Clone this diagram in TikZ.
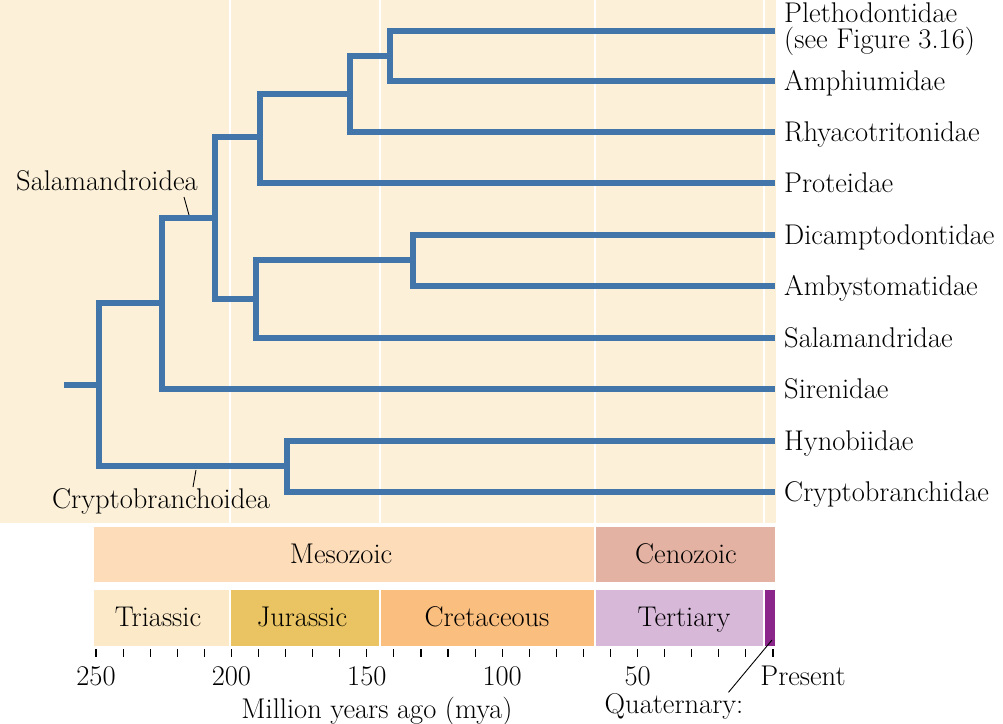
\documentclass[tikz,border=0pt]{standalone}
\usetikzlibrary{positioning}
\definecolor{panelcream}{RGB}{252,240,217}
\definecolor{branchblue}{RGB}{66,118,170}
\definecolor{mesozoic}{RGB}{253,220,186}
\definecolor{cenozoic}{RGB}{228,178,162}
\definecolor{triassic}{RGB}{251,233,199}
\definecolor{jurassic}{RGB}{234,196,98}
\definecolor{cretaceous}{RGB}{250,190,126}
\definecolor{tertiary}{RGB}{216,184,216}
\definecolor{quaternary}{RGB}{139,38,139}
\begin{document}
\begin{tikzpicture}[x=1pt,y=-1pt,
    branch/.style={line width=6.5pt,color=branchblue,line join=miter},
    taxon/.style={anchor=west,inner sep=0pt,text height=19pt,text depth=0pt,font=\fontsize{28.5}{26}\selectfont},
    lbl/.style={inner sep=0pt,text height=19pt,text depth=0pt,font=\fontsize{28.5}{26}\selectfont},
    leader/.style={line width=0.9pt,black},
    timebox/.style={draw=white,line width=1.6pt}]
    \useasboundingbox (0,0) rectangle (1003,723);
    % background panel with period lines
    \fill[panelcream] (0,0) rectangle (776,523);
    \foreach \x in {230,380,595,764}
        \draw[white,line width=1.5pt] (\x,0) -- (\x,523);
    % tips
    \coordinate (tip1) at (775,31);
    \coordinate (tip2) at (775,81);
    \coordinate (tip3) at (775,132);
    \coordinate (tip4) at (775,183);
    \coordinate (tip5) at (775,235);
    \coordinate (tip6) at (775,286);
    \coordinate (tip7) at (775,338);
    \coordinate (tip8) at (775,389);
    \coordinate (tip9) at (775,441);
    \coordinate (tip10) at (775,492);
    \node[align=left,anchor=north west,inner sep=0pt,font=\fontsize{28.5}{26}\selectfont] (pleth) at ([shift={(9,-28)}]tip1) {Plethodontidae\\(see Figure 3.16)};
    \node[taxon,right=9pt of tip2] (amph) {Amphiumidae};
    \node[taxon,right=9pt of tip3] (rhya) {Rhyacotritonidae};
    \node[taxon,right=9pt of tip4] (prot) {Proteidae};
    \node[taxon,right=9pt of tip5] (dica) {Dicamptodontidae};
    \node[taxon,right=9pt of tip6] (amby) {Ambystomatidae};
    \node[taxon,right=9pt of tip7] (sala) {Salamandridae};
    \node[taxon,right=9pt of tip8] (sire) {Sirenidae};
    \node[taxon,right=9pt of tip9] (hyno) {Hynobiidae};
    \node[taxon,right=9pt of tip10] (cryp) {Cryptobranchidae};
    % inner nodes
    \coordinate (n1) at (390,56);
    \coordinate (n2) at (350,94);
    \coordinate (n3) at (260,137);
    \coordinate (n4) at (413,260);
    \coordinate (n5) at (256,299);
    \coordinate (n6) at (215,218);
    \coordinate (n7) at (162,303);
    \coordinate (n9) at (287,466);
    \coordinate (root) at (99,385);
    \coordinate (stem) at (64,385);
    \draw[branch] (tip1) -| (n1) |- (tip2);
    \draw[branch] (n1) -| (n2) |- (tip3);
    \draw[branch] (n2) -| (n3) |- (tip4);
    \draw[branch] (tip5) -| (n4) |- (tip6);
    \draw[branch] (n4) -| (n5) |- (tip7);
    \draw[branch] (n3) -| (n6) |- (n5);
    \draw[branch] (n6) -| (n7) |- (tip8);
    \draw[branch] (tip9) -| (n9) |- (tip10);
    \draw[branch] (n7) -| (root) |- (n9);
    \draw[branch] (root) -- (stem);
    % clade labels
    \node[taxon] (salamandroidea) at (16,181) {Salamandroidea};
    \coordinate (salamtick) at (189,215);
    \draw[leader] (salamtick) -- ++(-5,-18);
    \node[taxon] (cryptobranchoidea) at (52,499) {Cryptobranchoidea};
    \coordinate (cryptick) at (196,470);
    \draw[leader] (cryptick) -- ++(-3,17);
    % eras
    \draw[timebox,fill=mesozoic] (93,526) rectangle (595,583);
    \draw[timebox,fill=cenozoic] (595,526) rectangle (776,583);
    \node[lbl] (meso) at (341,554) {Mesozoic};
    \node[lbl] (ceno) at (686,554) {Cenozoic};
    % periods
    \draw[timebox,fill=triassic] (93,589) rectangle (230,647);
    \draw[timebox,fill=jurassic] (230,589) rectangle (380,647);
    \draw[timebox,fill=cretaceous] (380,589) rectangle (595,647);
    \draw[timebox,fill=tertiary] (595,589) rectangle (764,647);
    \draw[timebox,fill=quaternary] (764,589) rectangle (776,647);
    \node[lbl] (tria) at (158,617) {Triassic};
    \node[lbl] (jura) at (302,617) {Jurassic};
    \node[lbl] (cret) at (487,617) {Cretaceous};
    \node[lbl] (tert) at (684,617) {Tertiary};
    % time axis
    \foreach \k in {0,...,25}
        \draw[line width=1.1pt] (773-27.08*\k,649) -- (773-27.08*\k,657);
    \foreach \t in {250,200,150,100,50}
        \node[lbl] at (773-2.708*\t,676) {\t};
    \node[lbl] (present) at (803,676) {Present};
    \node[lbl] (mya) at (377,709) {Million years ago (mya)};
    \node[lbl] (quat) at (674,704) {Quaternary:};
    \coordinate (quattick) at (772,640);
    \draw[leader] ([shift={(-15,-2)}]quat.north east) -- (quattick);
\end{tikzpicture}
\end{document}
